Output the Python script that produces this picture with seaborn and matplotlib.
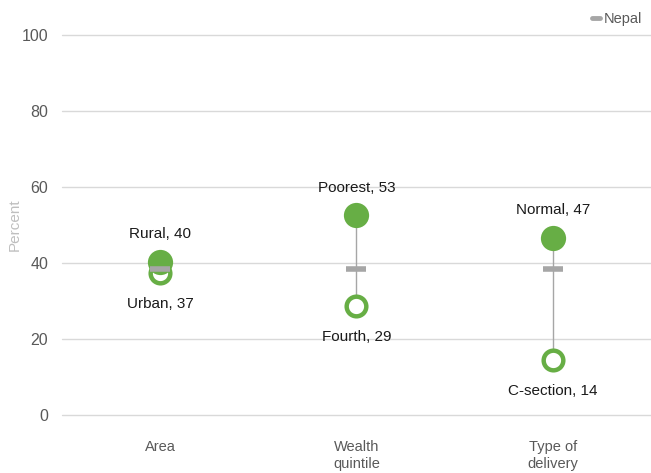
import matplotlib
matplotlib.use("Agg")
import matplotlib.pyplot as plt
from matplotlib.lines import Line2D
import seaborn as sns
import pandas as pd

categories = ["Area", "Wealth\nquintile", "Type of\ndelivery"]
high_labels = ["Rural", "Poorest", "Normal"]
high_values = [40.3, 52.6, 46.6]
low_labels = ["Urban", "Fourth", "C-section"]
low_values = [37.4, 28.7, 14.5]
nepal_values = [38.4, 38.4, 38.4]
yticks = [0, 20, 40, 60, 80, 100]

GREEN = "#67ae45"
GREY = "#a6a6a6"

sns.set_theme(style="white")
plt.rcParams["font.family"] = ["Liberation Sans", "DejaVu Sans"]

fig = plt.figure(figsize=(6.51, 4.73), dpi=100)
ax = fig.add_axes([0.0952, 0.1226, 0.9048, 0.8034])

x = list(range(len(categories)))
df_high = pd.DataFrame({"x": x, "y": high_values})
df_low = pd.DataFrame({"x": x, "y": low_values})
df_nep = pd.DataFrame({"x": x, "y": nepal_values})

for i in x:
    ax.plot([i, i], [low_values[i], high_values[i]], color=GREY, lw=1, zorder=2)

sns.scatterplot(data=df_low, x="x", y="y", ax=ax, s=200, color="white",
                edgecolor=GREEN, linewidth=3.2, zorder=3, legend=False)
sns.scatterplot(data=df_high, x="x", y="y", ax=ax, s=330, color=GREEN,
                edgecolor=GREEN, linewidth=0, zorder=4, legend=False)
ax.plot(df_nep["x"], df_nep["y"], linestyle="none", marker="_", markersize=15,
        markeredgewidth=4, color=GREY, zorder=5)

for i in x:
    ax.annotate(f"{high_labels[i]}, {round(high_values[i])}", (i, high_values[i]),
                xytext=(0, 19.8), textcoords="offset points", ha="center", va="center",
                fontsize=11, color="#1a1a1a")
    ax.annotate(f"{low_labels[i]}, {round(low_values[i])}", (i, low_values[i]),
                xytext=(0, -22.3), textcoords="offset points", ha="center", va="center",
                fontsize=11, color="#1a1a1a")

ax.set_xlim(-0.5, 2.5)
ax.set_ylim(0, 100)
ax.set_yticks(yticks)
ax.set_xticks(x)
ax.set_xticklabels(categories, color="#595959", fontsize=10.5, linespacing=1.25)
ax.tick_params(axis="y", labelcolor="#595959", labelsize=11.5, pad=10, length=0)
ax.tick_params(axis="x", pad=18, length=0)
ax.set_xlabel("")
ax.set_ylabel("Percent", color="#bfbfbf", fontsize=11, labelpad=8)
ax.yaxis.set_label_coords(-0.068, 0.5)
ax.grid(axis="y", color="#d9d9d9", lw=1)
for gl in ax.get_ygridlines():
    gl.set_clip_on(False)
ax.set_axisbelow(True)
for s in ax.spines.values():
    s.set_visible(False)

handle = Line2D([0], [0], color=GREY, lw=3.5)
leg = ax.legend([handle], ["Nepal"], loc="lower right", bbox_to_anchor=(1.0, 1.0),
                frameon=False, fontsize=10.5, handlelength=0.55, handletextpad=0.25,
                borderaxespad=0.2, labelcolor="#595959")

fig.savefig("out.png", dpi=100)
